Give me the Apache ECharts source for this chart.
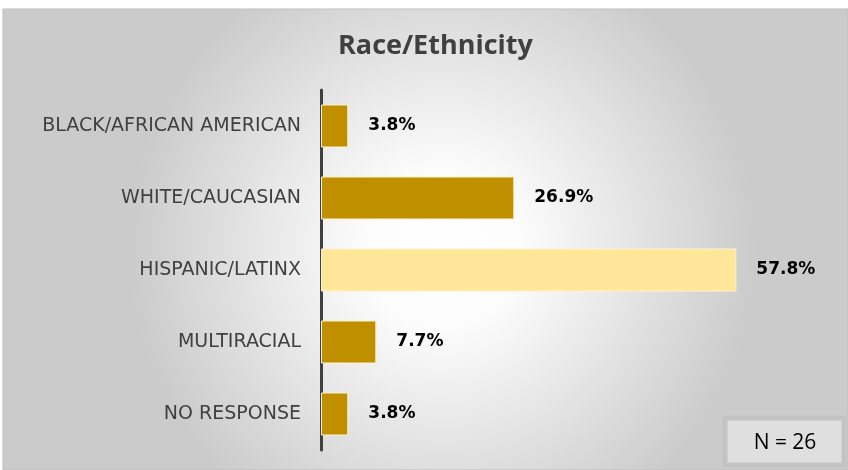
<!DOCTYPE html>
<html>
<head>
<meta charset="utf-8">
<script src="https://cdn.jsdelivr.net/npm/echarts@6/dist/echarts.min.js"></script>
<style>
    * { margin: 0; padding: 0; }
    #container { width: 848px; height: 470px; }
</style>
</head>
<body>
<div id="container"></div>
<script>
    // categories, top to bottom
    var categories = ['BLACK/AFRICAN AMERICAN', 'WHITE/CAUCASIAN', 'HISPANIC/LATINX', 'MULTIRACIAL', 'NO RESPONSE'];
    var values = [3.8, 26.9, 57.8, 7.7, 3.8];
    var highlight = 'HISPANIC/LATINX';
    var sampleLabel = 'N = 26';

    var goldColor = '#bf8f00';
    var lightColor = '#ffe699';

    var chart = echarts.init(document.getElementById('container'));

    var barData = values.map(function (v, i) {
        return {
            value: v,
            itemStyle: { color: categories[i] === highlight ? lightColor : goldColor }
        };
    });

    var option = {
        backgroundColor: '#ffffff',
        graphic: [
            {
                type: 'rect',
                z: -10,
                shape: { x: 3, y: 9, width: 845, height: 461 },
                style: {
                    fill: new echarts.graphic.RadialGradient(0.52, 0.52, 0.68, [
                        { offset: 0, color: '#ffffff' },
                        { offset: 0.25, color: '#fcfcfc' },
                        { offset: 1, color: '#cbcbcb' }
                    ]),
                    stroke: '#bdbdbd',
                    lineWidth: 1
                },
                silent: true
            },
            {
                type: 'rect',
                shape: { x: 725, y: 418, width: 119, height: 47 },
                style: { fill: '#dfdfdf', stroke: '#c3c3c3', lineWidth: 5 },
                silent: true
            },
            {
                type: 'text',
                x: 785,
                y: 443,
                style: {
                    text: sampleLabel,
                    fill: '#000000',
                    font: '21px "Open Sans", sans-serif',
                    align: 'center',
                    verticalAlign: 'middle'
                },
                silent: true
            }
        ],
        title: {
            text: 'Race/Ethnicity',
            left: 333,
            top: 28,
            textStyle: {
                color: '#404040',
                fontSize: 27,
                fontWeight: 'bold',
                fontFamily: '"Open Sans", sans-serif'
            }
        },
        grid: {
            left: 321,
            top: 90,
            width: 503,
            height: 360
        },
        xAxis: {
            type: 'value',
            min: 0,
            max: 70,
            show: false
        },
        yAxis: {
            type: 'category',
            data: categories,
            inverse: true,
            axisLine: { show: true, lineStyle: { color: '#404040', width: 3 } },
            axisTick: { show: false },
            axisLabel: {
                margin: 20,
                color: '#404040',
                fontSize: 19,
                fontFamily: '"DejaVu Sans", sans-serif'
            }
        },
        series: [
            {
                type: 'bar',
                data: barData,
                barWidth: 43,
                itemStyle: { borderColor: '#fff2cc', borderWidth: 1 },
                label: {
                    show: true,
                    position: 'right',
                    distance: 20,
                    color: '#000000',
                    fontSize: 17,
                    fontWeight: 'bold',
                    fontFamily: '"DejaVu Sans", sans-serif',
                    formatter: function (p) { return p.value.toFixed(1) + '%'; }
                }
            }
        ]
    };

    chart.setOption(option);
</script>
</body>
</html>
